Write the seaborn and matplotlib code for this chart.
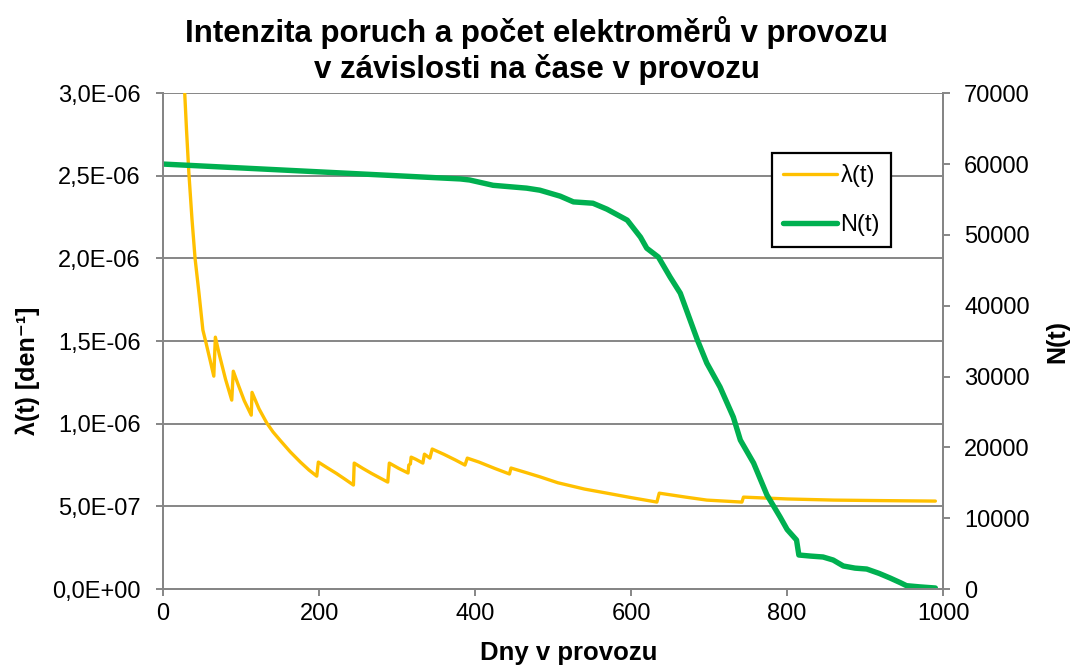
import matplotlib
matplotlib.use("Agg")
import matplotlib.pyplot as plt
import seaborn as sns

sns.set_style("white")
plt.rcParams['font.family'] = ['Liberation Sans', 'DejaVu Sans']
plt.rcParams['text.color'] = 'black'
plt.rcParams['axes.labelcolor'] = 'black'

# intenzita poruch lambda(t)
t_lam = [27, 30, 33, 37, 41, 46, 51, 55, 60, 65, 67, 72, 80, 88, 90, 96, 104, 113,
         114, 123, 133, 141, 150, 163, 176, 187, 197, 199, 210, 222, 233, 244,
         245, 256, 267, 278, 288, 290, 302, 314, 315, 317, 318, 324, 333, 335, 342,
         345, 360, 375, 387, 390, 405, 425, 444, 446, 465, 483, 506, 540, 569, 600,
         633, 636, 670, 697, 742, 744, 800, 860, 920, 990]
lam = [3.07, 2.78, 2.52, 2.24, 2.0, 1.79, 1.567, 1.49, 1.39, 1.288, 1.524, 1.42,
       1.27, 1.143, 1.318, 1.24, 1.14, 1.052, 1.19, 1.09, 1.004, 0.95, 0.90, 0.83,
       0.768, 0.72, 0.683, 0.768, 0.735, 0.70, 0.665, 0.629, 0.762, 0.73, 0.70,
       0.672, 0.647, 0.762, 0.73, 0.702, 0.75, 0.757, 0.798, 0.785, 0.762, 0.816,
       0.792, 0.847, 0.815, 0.78, 0.75, 0.792, 0.768, 0.73, 0.696, 0.732, 0.705,
       0.679, 0.643, 0.605, 0.58, 0.553, 0.526, 0.58, 0.556, 0.538, 0.526, 0.556,
       0.545, 0.538, 0.535, 0.532]
lam = [v * 1e-6 for v in lam]

# pocet elektromeru v provozu N(t)
t_N = [0, 100, 200, 300, 381, 393, 423, 466, 483, 509, 526, 551, 569, 595, 612, 620,
       635, 650, 663, 685, 697, 714, 731, 740, 757, 774, 791, 800, 812, 815, 830,
       846, 859, 872, 887, 902, 918, 932, 945, 953, 970, 990]
N = [60000, 59450, 58900, 58350, 57900, 57750, 57000, 56600, 56310, 55470, 54660,
     54470, 53630, 52080, 49680, 48120, 46860, 44040, 41770, 35140, 31900, 28510,
     24270, 21030, 17780, 13300, 10160, 8400, 6920, 4800, 4650, 4520, 4090, 3250,
     2950, 2820, 2200, 1550, 900, 470, 300, 140]

lam_ticks = [0, 0.5e-6, 1.0e-6, 1.5e-6, 2.0e-6, 2.5e-6, 3.0e-6]
lam_labels = ["0,0E+00", "5,0E-07", "1,0E-06", "1,5E-06", "2,0E-06", "2,5E-06", "3,0E-06"]
n_ticks = [0, 10000, 20000, 30000, 40000, 50000, 60000, 70000]
x_ticks = [0, 200, 400, 600, 800, 1000]

grey = '#868686'
fs = 17

fig, ax = plt.subplots(figsize=(10.73, 6.66), dpi=100)
fig.subplots_adjust(left=0.152, right=0.879, top=0.860, bottom=0.1156)
ax2 = ax.twinx()

sns.lineplot(x=t_lam, y=lam, ax=ax, color='#FFC000', lw=2.4, estimator=None,
             sort=False, label='λ(t)', legend=False)
sns.lineplot(x=t_N, y=N, ax=ax2, color='#00B050', lw=3.9, estimator=None,
             sort=False, label='N(t)', legend=False)

ax.set_xlim(0, 1000)
ax.set_ylim(0, 3.0e-6)
ax2.set_ylim(0, 70000)
ax.set_xticks(x_ticks)
ax.set_xticklabels([str(v) for v in x_ticks])
ax.set_yticks(lam_ticks)
ax.set_yticklabels(lam_labels)
ax2.set_yticks(n_ticks)
ax2.set_yticklabels([str(v) for v in n_ticks])

ax.grid(axis='y', color=grey, lw=1.4)
ax.set_axisbelow(True)
for a in (ax, ax2):
    a.spines['top'].set_visible(False)
    for s in ('left', 'right', 'bottom'):
        a.spines[s].set_color(grey)
        a.spines[s].set_linewidth(1.4)
ax.tick_params(axis='y', left=True, direction='out', length=5, width=1.4,
               color=grey, labelcolor='black', labelsize=fs, pad=11)
ax.tick_params(axis='x', bottom=True, direction='out', length=5, width=1.4,
               color=grey, labelcolor='black', labelsize=fs, pad=5)
ax2.tick_params(axis='y', right=True, direction='out', length=5, width=1.4,
                color=grey, labelcolor='black', labelsize=fs, pad=10)

ax.set_xlabel("Dny v provozu", fontsize=18.5, fontweight='bold')
ax.xaxis.set_label_coords(0.52, -0.104)
ax.set_ylabel("λ(t) [den⁻¹]", fontsize=18, fontweight='bold')
ax.yaxis.label.set_ha('center')
ax.yaxis.label.set_va('center')
ax.yaxis.set_label_coords(-0.173, 0.44)
ax2.set_ylabel("N(t)", fontsize=18, fontweight='bold')
ax2.yaxis.label.set_ha('center')
ax2.yaxis.label.set_va('center')
ax2.yaxis.set_label_coords(1.147, 0.5)

fig.suptitle("Intenzita poruch a počet elektroměrů v provozu\nv závislosti na čase v provozu",
             fontsize=22.5, fontweight='bold', y=0.976, va='top', linespacing=1.22)

h1, l1 = ax.get_legend_handles_labels()
h2, l2 = ax2.get_legend_handles_labels()
leg = ax2.legend(h1 + h2, l1 + l2, loc='upper left', bbox_to_anchor=(0.7195, 0.770),
                 bbox_transform=fig.transFigure, fontsize=fs, frameon=True,
                 fancybox=False, edgecolor='black', framealpha=1, handlelength=2.3,
                 labelspacing=1.15, borderpad=0.45, handletextpad=0.15,
                 borderaxespad=0)
leg.get_frame().set_linewidth(1.6)

fig.savefig("out.png", dpi=100)
